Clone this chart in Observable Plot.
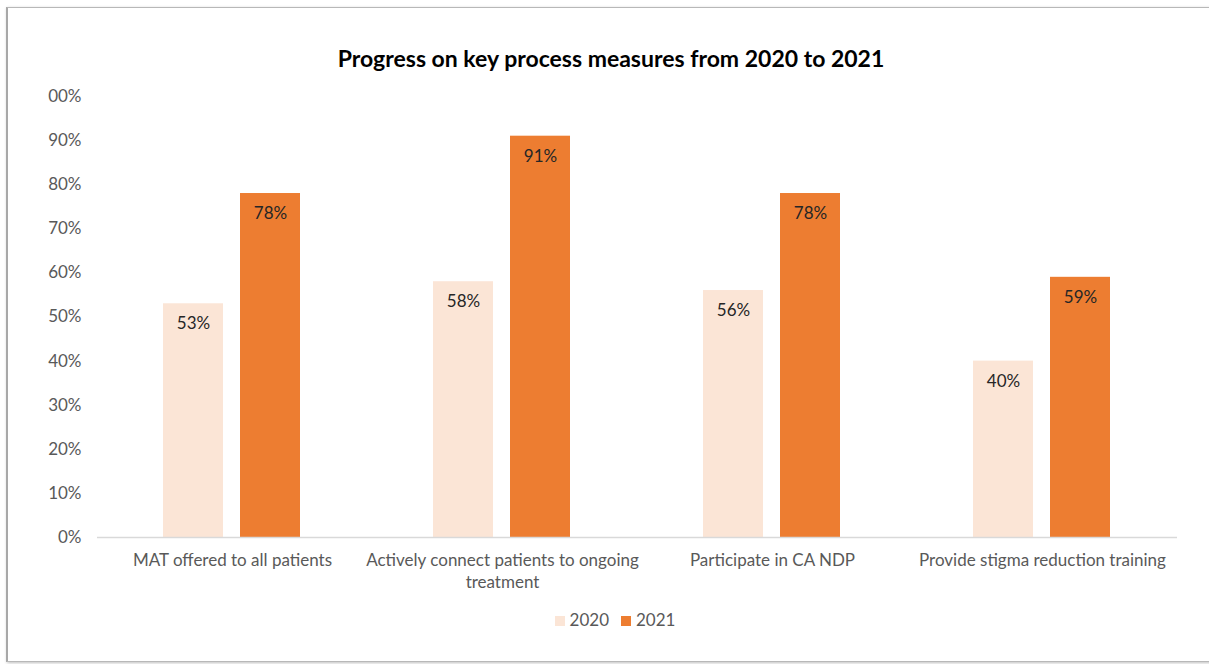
<!DOCTYPE html>
<html>
<head>
<meta charset="utf-8">
<script src="https://cdn.jsdelivr.net/npm/d3@7"></script>
<script src="https://cdn.jsdelivr.net/npm/@observablehq/plot@0.6"></script>
<style>
  html, body { margin: 0; padding: 0; background: #fff; overflow: hidden; width: 1209px; height: 664px; }
  #frame { position: absolute; left: 6px; top: 7px; width: 1230px; height: 653px; border: 1px solid #b8b8b8; border-left: 2px solid #a8a8a8; box-shadow: 1px 1px 3px rgba(0,0,0,0.25); background: #fff; }
  #chart { position: absolute; left: 0; top: 0; }
  #title { position: absolute; left: 0; width: 1222px; top: 44px; text-align: center; font: bold 23px Lato, "Open Sans", sans-serif; color: #000; }
  #legend { position: absolute; left: 0; width: 1230px; top: 609px; text-align: center; font: 17px Lato, "Open Sans", sans-serif; color: #595959; }
  #legend span.sw { display: inline-block; width: 10px; height: 10px; margin-right: 5px; vertical-align: 0px; }
  #legend span.item { margin: 0 6px; }
</style>
</head>
<body>
<div id="frame"></div>
<div id="chart"></div>
<div id="title">Progress on key process measures from 2020 to 2021</div>
<div id="legend"></div>
<script>
const categories = [
  "MAT offered to all patients",
  "Actively connect patients to ongoing treatment",
  "Participate in CA NDP",
  "Provide stigma reduction training"
];
const categoryLabels = [
  "MAT offered to all patients",
  "Actively connect patients to ongoing\ntreatment",
  "Participate in CA NDP",
  "Provide stigma reduction training"
];
const years = ["2020", "2021"];
const values2020 = [0.53, 0.58, 0.56, 0.40];
const values2021 = [0.78, 0.91, 0.78, 0.59];
const yTicks = [0, 0.1, 0.2, 0.3, 0.4, 0.5, 0.6, 0.7, 0.8, 0.9, 1.0];
const yTickLabels = ["0%", "10%", "20%", "30%", "40%", "50%", "60%", "70%", "80%", "90%", "00%"];
const colors = ["#FBE5D6", "#ED7D31"];

const data = [];
categories.forEach((c, i) => {
  data.push({category: c, year: years[0], value: values2020[i]});
  data.push({category: c, year: years[1], value: values2021[i]});
});

const font = "Lato, 'Open Sans', sans-serif";

const chart = Plot.plot({
  width: 1209,
  height: 664,
  marginTop: 96,
  marginBottom: 127,
  marginLeft: 96,
  marginRight: 31,
  style: {fontFamily: font, fontSize: "17px", color: "#595959", background: "transparent"},
  fx: {domain: categories, paddingInner: 0, paddingOuter: 0, label: null},
  x: {domain: years, paddingInner: 0.218, paddingOuter: 0.843, axis: null},
  y: {domain: [0, 1], label: null},
  color: {domain: years, range: colors},
  marks: [
    Plot.axisY({ticks: yTicks, tickFormat: (d) => yTickLabels[yTicks.indexOf(d)], tickSize: 0, tickPadding: 16, label: null, fontSize: 17, fill: "#595959"}),
    Plot.axisFx({anchor: "bottom", tickSize: 0, tickPadding: 13, label: null, lineHeight: 1.3, tickFormat: (d) => categoryLabels[categories.indexOf(d)], fontSize: 17, fill: "#595959"}),
    Plot.barY(data, {fx: "category", x: "year", y: "value", fill: "year"}),
    Plot.text(data, {fx: "category", x: "year", y: "value", text: (d) => Math.round(d.value * 100) + "%", dy: 20, fill: "#262626", fontSize: 17}),
    Plot.ruleY([0], {stroke: "#d9d9d9", strokeWidth: 1.5})
  ]
});
document.getElementById("chart").appendChild(chart);

const legend = document.getElementById("legend");
years.forEach((y, i) => {
  const item = document.createElement("span");
  item.className = "item";
  const sw = document.createElement("span");
  sw.className = "sw";
  sw.style.background = colors[i];
  item.appendChild(sw);
  item.appendChild(document.createTextNode(y));
  legend.appendChild(item);
});
</script>
</body>
</html>
